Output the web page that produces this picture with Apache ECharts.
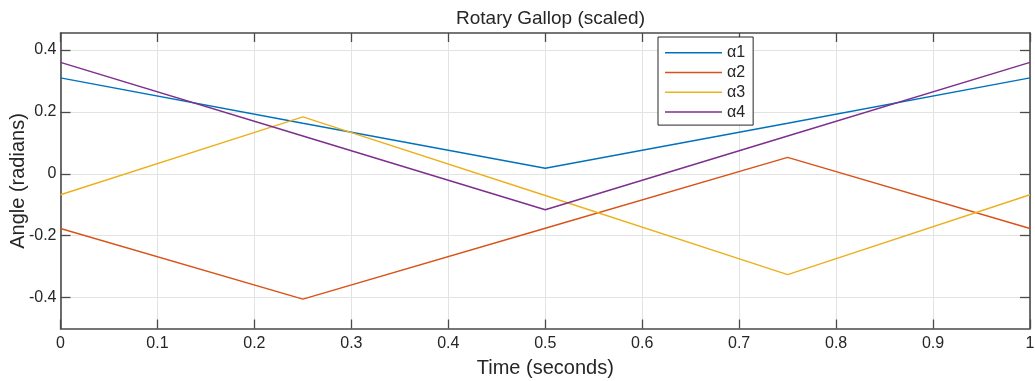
<!DOCTYPE html>
<html><head><meta charset="utf-8">
<script src="https://cdn.jsdelivr.net/npm/echarts@6/dist/echarts.min.js"></script>
<style>html,body{margin:0;padding:0;background:#fff}#c{width:1035px;height:381px}</style>
</head><body><div id="c"></div>
<script>
const times = [0, 0.25, 0.5, 0.75, 1];
const a1 = [0.31, 0.163, 0.018, 0.163, 0.31];
const a2 = [-0.177, -0.405, -0.176, 0.053, -0.177];
const a3 = [-0.068, 0.184, -0.07, -0.326, -0.068];
const a4 = [0.36, 0.122, -0.116, 0.122, 0.36];
const names = ['α1', 'α2', 'α3', 'α4'];
const colors = ['#0072BD', '#D95319', '#EDB120', '#7E2F8E'];
const yTicks = [-0.4, -0.2, 0, 0.2, 0.4];

const font = 'Liberation Sans, Arial, sans-serif';
const axisColor = '#4a4a4a';
const textColor = '#262626';
const pair = arr => times.map((t, i) => [t, arr[i]]);

const chart = echarts.init(document.getElementById('c'));
const xBase = {
  type: 'value', min: 0, max: 1, interval: 0.1,
  axisLine: {show: true, onZero: false, lineStyle: {color: axisColor, width: 1.6}},
  axisTick: {show: true, inside: true, length: 9, lineStyle: {color: axisColor, width: 1.3}},
  splitLine: {show: false}
};
const yBase = {
  type: 'value', min: -0.5, max: 0.455,
  axisLine: {show: true, onZero: false, lineStyle: {color: axisColor, width: 1.6}},
  axisTick: {show: true, inside: true, length: 10, customValues: yTicks, lineStyle: {color: axisColor, width: 1.3}},
  splitLine: {show: false}
};
chart.setOption({
  animation: false,
  title: {text: 'Rotary Gallop (scaled)', left: 545.5, textAlign: 'center', top: 4,
    textStyle: {fontFamily: font, fontSize: 19, fontWeight: 'normal', color: textColor}},
  grid: {left: 60.5, right: 5, top: 33, bottom: 52.5, containLabel: false, outerBoundsMode: 'none'},
  legend: {
    orient: 'vertical', left: 658, top: 37, width: 93,
    backgroundColor: '#fff', borderColor: '#262626', borderWidth: 1,
    padding: [7.7, 8, 5, 7], itemWidth: 57, itemHeight: 14, itemGap: 3.8,
    icon: 'path://M0,6.25 L57,6.25 L57,7.75 L0,7.75 Z',
    textStyle: {fontFamily: font, fontSize: 16, color: textColor},
    data: names
  },
  graphic: [{
    type: 'text', x: 18.5, y: 181, rotation: Math.PI / 2,
    style: {text: 'Angle (radians)', fontFamily: font, fontSize: 20, fill: textColor,
      align: 'center', verticalAlign: 'middle'}
  }],
  xAxis: [
    Object.assign({}, xBase, {
      position: 'bottom',
      name: 'Time (seconds)', nameLocation: 'middle', nameGap: 30,
      nameTextStyle: {fontFamily: font, fontSize: 20, color: textColor},
      axisLabel: {fontFamily: font, fontSize: 16, color: textColor, margin: 7},
      splitLine: {show: true, lineStyle: {color: '#e3e3e3', width: 1}}
    }),
    Object.assign({}, xBase, {position: 'top', axisLabel: {show: false}})
  ],
  yAxis: [
    Object.assign({}, yBase, {
      position: 'left',
      axisLabel: {fontFamily: font, fontSize: 16, color: textColor, margin: 4, customValues: yTicks},
      splitLine: {show: true, lineStyle: {color: '#e3e3e3', width: 1}}
    }),
    Object.assign({}, yBase, {position: 'right', axisLabel: {show: false}})
  ],
  series: [a1, a2, a3, a4].map((arr, i) => ({
    name: names[i], type: 'line', data: pair(arr), showSymbol: false, symbol: 'none',
    lineStyle: {color: colors[i], width: 1.5}, itemStyle: {color: colors[i]}
  }))
});
</script></body></html>
